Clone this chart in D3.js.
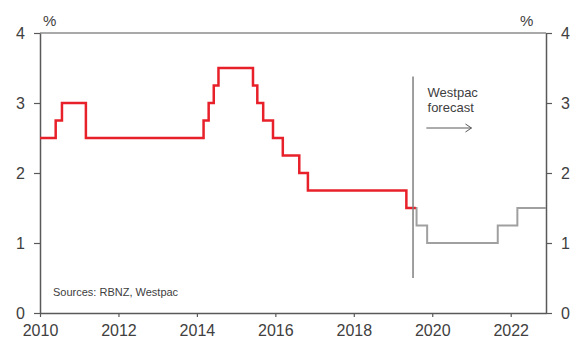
<!DOCTYPE html>
<html>
<head>
<meta charset="utf-8">
<script src="https://cdn.jsdelivr.net/npm/d3@7"></script>
<style>
  body { margin: 0; background: #fff; }
  text { font-family: "Liberation Sans", Arial, sans-serif; fill: #404040; }
</style>
</head>
<body>
<div id="chart"></div>
<script>
// OCR history (step changes: decimal year, rate %)
var ocrDates = [2010.0, 2010.40, 2010.56, 2011.17, 2014.17, 2014.30, 2014.43, 2014.55,
                2015.43, 2015.54, 2015.69, 2015.94, 2016.19, 2016.61, 2016.83, 2019.34, 2019.58];
var ocrRates = [2.5, 2.75, 3.0, 2.5, 2.75, 3.0, 3.25, 3.5,
                3.25, 3.0, 2.75, 2.5, 2.25, 2.0, 1.75, 1.5, 1.5];

// Westpac forecast
var fcDates = [2019.55, 2019.60, 2019.87, 2021.67, 2022.17, 2022.9];
var fcRates = [1.5, 1.25, 1.0, 1.25, 1.5, 1.5];

var xTicks = [2010, 2012, 2014, 2016, 2018, 2020, 2022];
var yTicks = [0, 1, 2, 3, 4];

var margin = { top: 33, right: 30, bottom: 27, left: 40 };
var width = 576 - margin.left - margin.right,
    height = 340 - margin.top - margin.bottom;

var svg = d3.select("#chart").append("svg")
    .attr("width", 576)
    .attr("height", 340)
    .append("g")
    .attr("transform", "translate(" + margin.left + "," + margin.top + ")");

var x = d3.scaleLinear().domain([2010, 2022.9]).range([0, width]);
var y = d3.scaleLinear().domain([0, 4]).range([height, 0]);

// top border
svg.append("line")
    .attr("x1", 0).attr("x2", width)
    .attr("y1", y(4)).attr("y2", y(4))
    .attr("stroke", "#8c8c8c").attr("stroke-width", 1.5);

// axes
var xAxis = svg.append("g")
    .attr("transform", "translate(0," + height + ")")
    .call(d3.axisBottom(x).tickValues(xTicks).tickFormat(d3.format("d")).tickSize(4).tickSizeOuter(0));

var yLeft = svg.append("g")
    .call(d3.axisLeft(y).tickValues(yTicks).tickFormat(d3.format("d")).tickSize(6).tickSizeOuter(0));

var yRight = svg.append("g")
    .attr("transform", "translate(" + width + ",0)")
    .call(d3.axisRight(y).tickValues(yTicks).tickFormat(d3.format("d")).tickSize(6).tickSizeOuter(0));

[xAxis, yLeft, yRight].forEach(function(a) {
    a.select(".domain").attr("stroke", "#595959").attr("stroke-width", 1.5);
    a.selectAll(".tick line").attr("stroke", "#595959").attr("stroke-width", 1.2);
    a.selectAll(".tick text").style("font-size", "16px").attr("fill", "#404040");
});
xAxis.selectAll(".tick text").attr("dy", 0).attr("y", 23);
yLeft.selectAll(".tick text").attr("x", -15);
yRight.selectAll(".tick text").attr("x", 15);

// % labels
svg.append("text").attr("x", 3).attr("y", -7).style("font-size", "15px").text("%");
svg.append("text").attr("x", width - 26).attr("y", -7).style("font-size", "15px").text("%");

// lines
var stepLine = d3.line()
    .x(function(d) { return x(d[0]); })
    .y(function(d) { return y(d[1]); })
    .curve(d3.curveStepAfter);

svg.append("path")
    .datum(d3.zip(fcDates, fcRates))
    .attr("fill", "none")
    .attr("stroke", "#a0a0a0")
    .attr("stroke-width", 2)
    .attr("d", stepLine);

svg.append("path")
    .datum(d3.zip(ocrDates, ocrRates))
    .attr("fill", "none")
    .attr("stroke", "#e8202a")
    .attr("stroke-width", 2.5)
    .attr("d", stepLine);

// forecast divider
svg.append("line")
    .attr("x1", x(2019.51)).attr("x2", x(2019.51))
    .attr("y1", y(3.38)).attr("y2", y(0.5))
    .attr("stroke", "#7f7f7f").attr("stroke-width", 1.5);

svg.append("text").attr("x", x(2019.88)).attr("y", 64).style("font-size", "13px").text("Westpac");
svg.append("text").attr("x", x(2019.88)).attr("y", 79).style("font-size", "13px").text("forecast");

svg.append("line")
    .attr("x1", x(2019.85)).attr("x2", x(2021.0))
    .attr("y1", 95).attr("y2", 95)
    .attr("stroke", "#595959").attr("stroke-width", 1);
svg.append("path")
    .attr("d", "M" + (x(2021.0) - 6) + ",91 L" + x(2021.0) + ",95 L" + (x(2021.0) - 6) + ",99")
    .attr("fill", "none").attr("stroke", "#595959").attr("stroke-width", 1);

svg.append("text").attr("x", 13).attr("y", 263).style("font-size", "11px").text("Sources: RBNZ, Westpac");
</script>
</body>
</html>
